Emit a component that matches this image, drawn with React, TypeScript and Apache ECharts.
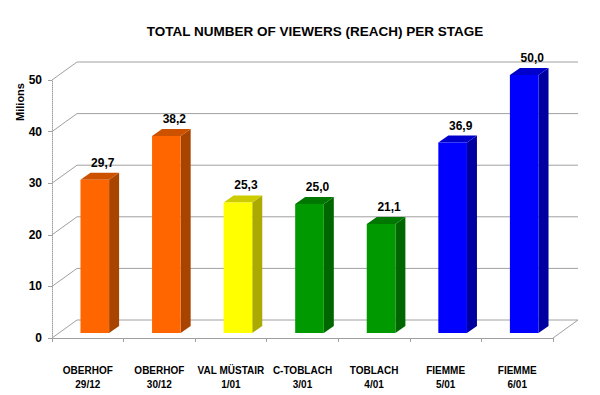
import React, { useEffect, useRef } from "react";
import * as echarts from "echarts";

const categories = [
  "OBERHOF\n29/12",
  "OBERHOF\n30/12",
  "VAL MÜSTAIR\n1/01",
  "C-TOBLACH\n3/01",
  "TOBLACH\n4/01",
  "FIEMME\n5/01",
  "FIEMME\n6/01",
];
const viewers = [29.7, 38.2, 25.3, 25.0, 21.1, 36.9, 50.0];
const yTicks = [0, 10, 20, 30, 40, 50];

// style palettes (front, top, side) per bar
const frontColors = ["#FF6600", "#FF6600", "#FFFF00", "#009900", "#009900", "#0000FF", "#0000FF"];
const topColors = ["#CC5200", "#CC5200", "#CCCC00", "#007700", "#007700", "#0000CC", "#0000CC"];
const sideColors = ["#A84400", "#A84400", "#AAAA00", "#006600", "#006600", "#0000A0", "#0000A0"];

const FONT = "'Liberation Sans', Arial, sans-serif";
const DX = 25; // wall depth offset x
const DY = -18; // wall depth offset y
const F0X = 7, F0Y = -5; // bar front face offset into depth
const SX = 10, SY = -7; // bar depth
const GRID = "#A0A0A0";

export default function App() {
  const ref = useRef<HTMLDivElement>(null);
  useEffect(() => {
    if (!ref.current) return;
    const chart = echarts.init(ref.current, null, { renderer: "svg" });
    const option: any = {
      animation: false,
      backgroundColor: "#FFFFFF",
      title: {
        text: "TOTAL NUMBER OF VIEWERS (REACH) PER STAGE",
        left: 310,
        textAlign: "center",
        top: 19,
        textStyle: { fontFamily: FONT, fontSize: 13.5, fontWeight: "bold", color: "#000" },
      },
      grid: { left: 52, right: 47, top: 80, bottom: 57 },
      xAxis: {
        type: "category",
        data: categories,
        axisLine: { lineStyle: { color: GRID, width: 1 } },
        axisTick: { show: true, length: 4, lineStyle: { color: GRID } },
        axisLabel: {
          interval: 0,
          margin: 25,
          fontFamily: FONT,
          fontSize: 10,
          fontWeight: "bold",
          color: "#000",
          lineHeight: 14,
        },
        splitLine: { show: false },
      },
      yAxis: {
        type: "value",
        min: 0,
        max: 50,
        interval: 10,
        axisLine: { show: true, lineStyle: { color: GRID, type: "dotted", width: 1 } },
        axisTick: { show: true, length: 4, lineStyle: { color: GRID } },
        axisLabel: { margin: 10, fontFamily: FONT, fontSize: 12, fontWeight: "bold", color: "#000" },
        splitLine: { show: false },
      },
      graphic: [
        {
          type: "text",
          x: 20,
          y: 102,
          rotation: Math.PI / 2,
          style: {
            text: "Milions",
            fontFamily: FONT,
            fontSize: 11,
            fontWeight: "bold",
            fill: "#000",
            align: "center",
            verticalAlign: "middle",
          },
        },
      ],
      series: [
        {
          type: "custom",
          name: "wall",
          z: 1,
          silent: true,
          data: yTicks.map((v) => [0, v]),
          renderItem: (params: any, api: any) => {
            const cs = params.coordSys;
            const v = api.value(1);
            const y = api.coord([0, v])[1];
            const children: any[] = [
              {
                type: "line",
                shape: { x1: cs.x, y1: y, x2: cs.x + DX, y2: y + DY },
                style: { stroke: GRID, lineWidth: 1 },
              },
              {
                type: "line",
                shape: { x1: cs.x + DX, y1: y + DY, x2: cs.x + cs.width + DX, y2: y + DY },
                style: { stroke: GRID, lineWidth: 1 },
              },
            ];
            if (v === 0) {
              children.push({
                type: "line",
                shape: { x1: cs.x + cs.width, y1: y, x2: cs.x + cs.width + DX, y2: y + DY },
                style: { stroke: GRID, lineWidth: 1 },
              });
            }
            return { type: "group", children };
          },
        },
        {
          type: "custom",
          name: "viewers",
          z: 3,
          data: viewers.map((v, i) => [i, v]),
          renderItem: (params: any, api: any) => {
            const i = api.value(0);
            const v = api.value(1);
            const base = api.coord([i, 0]);
            const top = api.coord([i, v]);
            const bw = api.size([1, 0])[0] * 0.4;
            const xl = base[0] + F0X - bw / 2;
            const xr = xl + bw;
            const yb = base[1] + F0Y;
            const yt = top[1] + F0Y;
            const idx = params.dataIndex;
            return {
              type: "group",
              children: [
                {
                  type: "polygon",
                  shape: { points: [[xr, yb], [xr + SX, yb + SY], [xr + SX, yt + SY], [xr, yt]] },
                  style: { fill: sideColors[idx] },
                },
                {
                  type: "polygon",
                  shape: { points: [[xl, yt], [xl + SX, yt + SY], [xr + SX, yt + SY], [xr, yt]] },
                  style: { fill: topColors[idx] },
                },
                {
                  type: "rect",
                  shape: { x: xl, y: yt, width: bw, height: yb - yt },
                  style: { fill: frontColors[idx] },
                },
                {
                  type: "text",
                  x: base[0] + F0X + 8,
                  y: yt - 17,
                  style: {
                    text: v.toFixed(1).replace(".", ","),
                    fontFamily: FONT,
                    fontSize: 12,
                    fontWeight: "bold",
                    fill: "#000",
                    align: "center",
                    verticalAlign: "middle",
                  },
                },
              ],
            };
          },
        },
      ],
    };
    chart.setOption(option);
    return () => chart.dispose();
  }, []);
  return <div ref={ref} style={{ width: 600, height: 395, position: "absolute", left: 0, top: 0 }} />;
}
